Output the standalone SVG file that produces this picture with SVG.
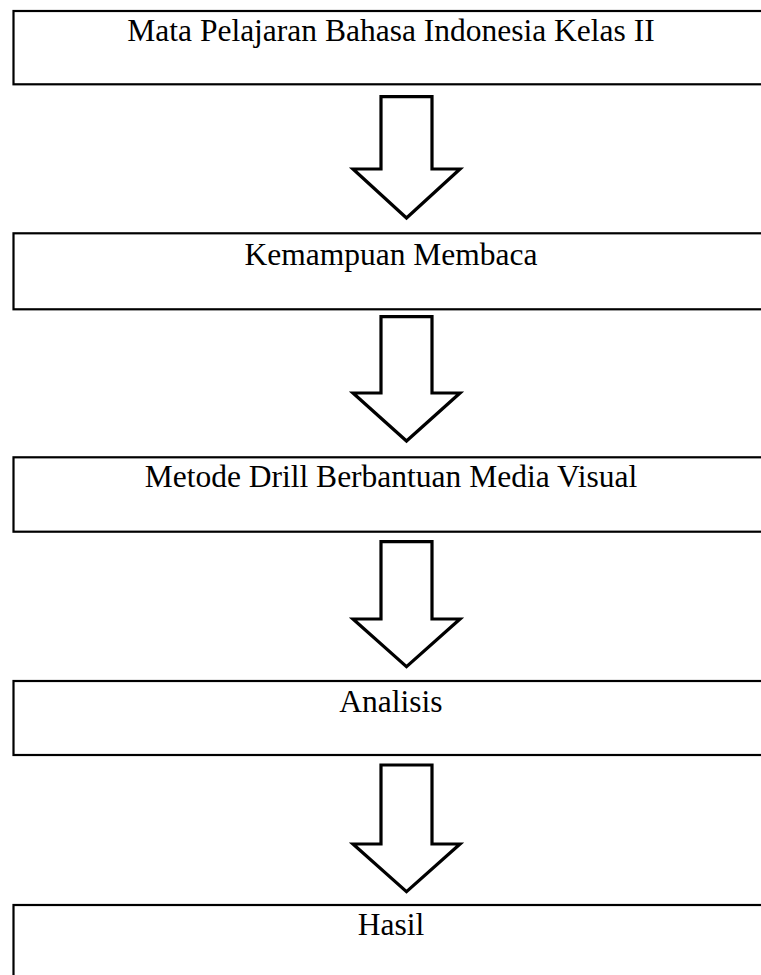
<svg xmlns="http://www.w3.org/2000/svg" width="761" height="975" viewBox="0 0 761 975">
<style>
  .box { fill: #ffffff; stroke: #000000; stroke-width: 2.2; }
  .lbl { font-family: "Liberation Serif", "Times New Roman", serif; font-size: 31.5px; fill: #000000; text-anchor: middle; }
  .arr { fill: #ffffff; stroke: #000000; stroke-width: 3.2; stroke-linejoin: miter; }
</style>
<rect width="761" height="975" fill="#ffffff"/>
<g id="connectors">
  <path class="arr" d="M381,96.7 L432,96.7 L432,169 L460,169 L406.5,218 L353,169 L381,169 Z"/>
  <path class="arr" d="M381,316.7 L432,316.7 L432,393 L460,393 L406.5,441 L353,393 L381,393 Z"/>
  <path class="arr" d="M381,541.7 L432,541.7 L432,619 L460,619 L406.5,666.7 L353,619 L381,619 Z"/>
  <path class="arr" d="M381,765 L432,765 L432,844 L460,844 L406.5,891.7 L353,844 L381,844 Z"/>
</g>
<g id="node1">
  <rect class="box" x="13.5" y="11" width="760" height="73.3"/>
  <text class="lbl" x="391" y="40.7">Mata Pelajaran Bahasa Indonesia Kelas II</text>
</g>
<g id="node2">
  <rect class="box" x="13.5" y="233.3" width="760" height="76"/>
  <text class="lbl" x="391" y="265">Kemampuan Membaca</text>
</g>
<g id="node3">
  <rect class="box" x="13.5" y="457.3" width="760" height="74.4"/>
  <text class="lbl" x="391" y="486.7">Metode Drill Berbantuan Media Visual</text>
</g>
<g id="node4">
  <rect class="box" x="13.5" y="681" width="760" height="74"/>
  <text class="lbl" x="391" y="711.7">Analisis</text>
</g>
<g id="node5">
  <rect class="box" x="13.5" y="905" width="760" height="100"/>
  <text class="lbl" x="391" y="935">Hasil</text>
</g>
</svg>
